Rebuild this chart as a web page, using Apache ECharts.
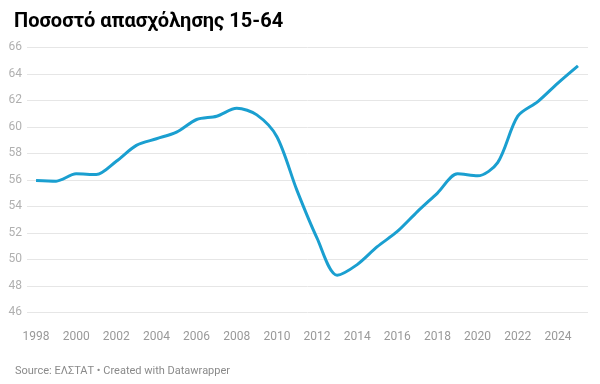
<!DOCTYPE html>
<html><head><meta charset="utf-8">
<script src="https://cdn.jsdelivr.net/npm/echarts@6/dist/echarts.min.js"></script>
<style>html,body{margin:0;padding:0;background:#fff}#c{width:600px;height:384px}</style>
</head><body><div id="c"></div>
<script>
const title = "Ποσοστό απασχόλησης 15-64";
const source = "Source: ΕΛΣΤΑΤ • Created with Datawrapper";
const years = [1998,1999,2000,2001,2002,2003,2004,2005,2006,2007,2008,2009,2010,2011,2012,2013,2014,2015,2016,2017,2018,2019,2020,2021,2022,2023,2024,2025];
const rate = [55.95,55.9,56.45,56.4,57.4,58.6,59.1,59.6,60.55,60.8,61.4,60.9,59.25,55.2,51.6,48.8,49.6,50.95,52.1,53.6,55.0,56.45,56.3,57.3,60.8,61.9,63.3,64.6];
const xTicks = [1998,2000,2002,2004,2006,2008,2010,2012,2014,2016,2018,2020,2022,2024];
const yTicks = [46,48,50,52,54,56,58,60,62,64,66];

const chart = echarts.init(document.getElementById('c'), null, {renderer:'canvas'});
chart.setOption({
  animation:false,
  textStyle:{fontFamily:'Roboto'},
  title:[
    {text:title,left:9,top:7,textStyle:{fontFamily:'Roboto',fontWeight:'bold',fontSize:20,color:'#000'}},
    {text:source,left:10,top:361,textStyle:{fontFamily:'Roboto',fontWeight:'normal',fontSize:11,color:'#8a8a8a'}}
  ],
  grid:{left:27,right:12,top:47.3,bottom:71.7,containLabel:false},
  xAxis:{type:'value',min:1997.55,max:2025.5,
    axisLine:{show:false},axisTick:{show:false},splitLine:{show:false},
    axisLabel:{customValues:xTicks,color:'#999',fontSize:12,margin:19,formatter:v=>String(v)}},
  yAxis:{type:'value',min:yTicks[0],max:yTicks[yTicks.length-1],interval:2,
    axisLine:{show:false},axisTick:{show:false},
    splitLine:{lineStyle:{color:'#e6e6e6',width:1}},
    axisLabel:{color:'#b0b0b0',fontSize:12,margin:5}},
  series:[{type:'line',data:years.map((y,i)=>[y,rate[i]]),smooth:0.3,symbol:'none',
    lineStyle:{color:'#1a9fd0',width:3}}]
});
</script></body></html>
